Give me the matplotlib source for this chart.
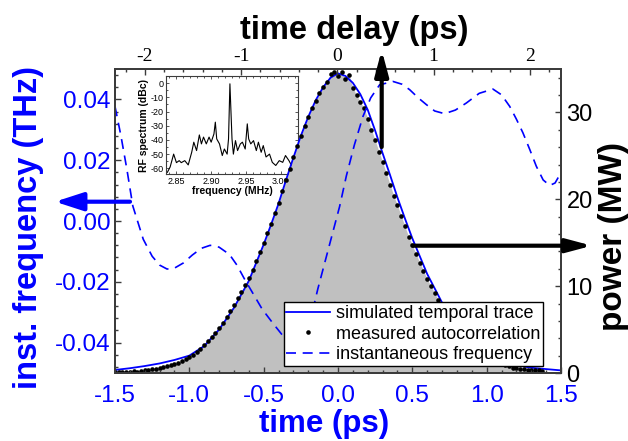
import matplotlib.pyplot as plt
from matplotlib.patches import FancyArrowPatch
from matplotlib.ticker import MultipleLocator, FormatStrFormatter

plt.rcParams['font.family'] = ['Liberation Sans', 'DejaVu Sans']
plt.rcParams['axes.unicode_minus'] = False

# simulated temporal trace (time in ps, power in MW)
sim_t = [-1.5, -1.4, -1.3, -1.2, -1.1, -1.0, -0.9, -0.8, -0.7, -0.6, -0.5, -0.45, -0.4, -0.35,
         -0.3, -0.25, -0.2, -0.15, -0.1, -0.05, 0.0, 0.05, 0.1, 0.15, 0.2, 0.25, 0.3, 0.35,
         0.4, 0.45, 0.5, 0.6, 0.7, 0.8, 0.9, 1.0, 1.1, 1.2, 1.3, 1.4, 1.5]
sim_p = [0.35, 0.55, 0.8, 1.1, 1.5, 2.0, 3.1, 5.0, 7.5, 10.6, 14.8, 17.1, 19.5, 22.2,
         24.8, 27.3, 29.5, 31.4, 32.9, 34.0, 34.5, 34.2, 33.4, 32.1, 30.3, 27.9, 25.3, 22.8,
         20.2, 17.8, 15.5, 11.4, 8.1, 5.6, 3.8, 2.5, 1.5, 0.9, 0.6, 0.45, 0.3]

# measured autocorrelation (dots)
meas_t = [-1.500, -1.475, -1.450, -1.425, -1.400, -1.375, -1.350, -1.325, -1.300, -1.275,
          -1.250, -1.225, -1.200, -1.175, -1.150, -1.125, -1.100, -1.075, -1.050, -1.025,
          -1.000, -0.975, -0.950, -0.925, -0.900, -0.875, -0.850, -0.825, -0.800, -0.775,
          -0.750, -0.725, -0.700, -0.675, -0.650, -0.625, -0.600, -0.575, -0.550, -0.525,
          -0.500, -0.475, -0.450, -0.425, -0.400, -0.375, -0.350, -0.325, -0.300, -0.275,
          -0.250, -0.225, -0.200, -0.175, -0.150, -0.125, -0.100, -0.075, -0.050, -0.025,
          0.000, 0.025, 0.050, 0.075, 0.100, 0.125, 0.150, 0.175, 0.200, 0.225,
          0.250, 0.275, 0.300, 0.325, 0.350, 0.375, 0.400, 0.425, 0.450, 0.475,
          0.500, 0.525, 0.550, 0.575, 0.600, 0.625, 0.650, 0.675, 0.700, 0.725,
          0.750, 0.775, 0.800, 0.825, 0.850, 0.875, 0.900, 0.925, 0.950, 0.975,
          1.000, 1.025, 1.050, 1.075, 1.100, 1.125, 1.150, 1.175, 1.200, 1.225,
          1.250, 1.275, 1.300, 1.325, 1.350, 1.375]
meas_p = [0.10, 0.12, 0.10, 0.15, 0.12, 0.18, 0.15, 0.25, 0.30, 0.35,
          0.42, 0.50, 0.58, 0.68, 0.78, 0.90, 1.05, 1.20, 1.38, 1.60,
          1.85, 2.10, 2.45, 2.80, 3.20, 3.65, 4.10, 4.60, 5.20, 5.80,
          6.40, 7.10, 7.80, 8.60, 9.30, 10.1, 10.9, 11.9, 12.9, 13.9,
          15.0, 16.1, 17.2, 18.4, 19.6, 20.9, 22.2, 23.5, 24.9, 26.1,
          27.3, 28.4, 29.5, 30.5, 31.3, 32.2, 32.9, 33.5, 34.4, 34.6,
          34.2, 34.6, 33.8, 34.3, 32.8, 32.0, 31.2, 30.5, 29.3, 28.0,
          26.8, 25.5, 24.3, 23.0, 21.7, 20.4, 19.3, 18.1, 16.9, 15.7,
          14.7, 13.7, 12.7, 11.8, 10.8, 10.0, 9.2, 8.4, 7.6, 7.0,
          6.3, 5.7, 5.2, 4.6, 4.2, 3.8, 3.3, 2.9, 2.6, 2.3,
          2.0, 1.75, 1.5, 1.25, 1.05, 0.9, 0.75, 0.6, 0.55, 0.5,
          0.45, 0.4, 0.35, 0.3, 0.3, 0.25]

# instantaneous frequency (THz)
freq_t = [-1.50, -1.46, -1.42, -1.38, -1.31, -1.25, -1.20, -1.15, -1.10, -1.04, -0.98, -0.92,
          -0.86, -0.80, -0.73, -0.68, -0.63, -0.57, -0.51, -0.44, -0.37, -0.32, -0.27, -0.23,
          -0.19, -0.136, -0.056, 0.011, 0.056, 0.11, 0.168, 0.22, 0.28, 0.37, 0.43, 0.482,
          0.54, 0.594, 0.65, 0.717, 0.79, 0.863, 0.95, 1.042, 1.10, 1.155, 1.20, 1.244,
          1.29, 1.334, 1.38, 1.424, 1.46, 1.50]
freq_f = [0.0377, 0.028, 0.017, 0.0049, -0.006, -0.0116, -0.0145, -0.0158, -0.0155, -0.0138, -0.0112, -0.0090,
          -0.0080, -0.0086, -0.0110, -0.0145, -0.0190, -0.0240, -0.0290, -0.0335, -0.0378, -0.0420, -0.0440, -0.0415,
          -0.0335, -0.0224, -0.0076, 0.0048, 0.0148, 0.0250, 0.0344, 0.0405, 0.0448, 0.0459, 0.0450, 0.0432,
          0.0405, 0.0383, 0.0362, 0.0353, 0.0365, 0.0388, 0.0420, 0.0434, 0.0415, 0.0377, 0.0335, 0.029,
          0.0235, 0.018, 0.0135, 0.0117, 0.0125, 0.0159]

# RF spectrum (inset)
rf_f = [2.837, 2.841, 2.846, 2.850, 2.854, 2.857, 2.862, 2.867, 2.872, 2.875, 2.879, 2.883,
        2.886, 2.889, 2.893, 2.897, 2.900, 2.904, 2.906, 2.908, 2.912, 2.916, 2.919, 2.923,
        2.925, 2.927, 2.930, 2.932, 2.935, 2.938, 2.942, 2.945, 2.949, 2.952, 2.954, 2.957,
        2.961, 2.965, 2.968, 2.972, 2.975, 2.979, 2.984, 2.988, 2.993, 2.998, 3.003, 3.007,
        3.012, 3.017, 3.022]
rf_db = [-62.8, -59, -50, -56, -54.6, -56, -54.6, -57.6, -48.7, -41.6, -47.5, -36.5,
         -42.8, -38, -42.8, -38, -41.6, -35.8, -27.5, -39.3, -42.8, -51, -46.4, -50,
         -39.3, -0.5, -39.3, -50, -40.5, -47.5, -42.8, -41.6, -46.4, -28.7, -39.3, -42.8,
         -40.5, -47.5, -41.6, -48.7, -44, -52, -50, -55.8, -58, -54.6, -55.8, -51,
         -54.6, -59.3, -55.8]

W, H = 628, 441
spine_col = '#3c3c3c'
blue = '#0000ff'

fig = plt.figure(figsize=(W / 100, H / 100), dpi=100)

# inset first, lowest zorder so the pulse is drawn over it
ins = fig.add_axes([166 / W, 1 - 174 / H, 132 / W, 98 / H])
ins.set_zorder(0)
ins.plot(rf_f, rf_db, color='k', lw=0.8)
ins.set_xlim(2.835, 3.025)
ins.set_ylim(-64, 5)
ins.set_xticks([2.85, 2.90, 2.95, 3.00])
ins.xaxis.set_major_formatter(FormatStrFormatter('%.2f'))
ins.set_yticks([0, -10, -20, -30, -40, -50, -60])
ins.xaxis.set_minor_locator(MultipleLocator(0.01))
ins.yaxis.set_minor_locator(MultipleLocator(5))
ins.tick_params(which='both', direction='in', top=True, right=True, labelsize=6.5, pad=2,
                color=spine_col, width=0.6)
ins.tick_params(which='major', length=2.5)
ins.tick_params(which='minor', length=1.5)
ins.set_xlabel('frequency (MHz)', fontsize=7.5, fontweight='bold', labelpad=0)
ins.set_ylabel('RF spectrum (dBc)', fontsize=7.5, fontweight='bold', labelpad=1)
for s in ins.spines.values():
    s.set_color(spine_col)
    s.set_linewidth(0.8)

ax = fig.add_axes([115 / W, 1 - 373 / H, 446 / W, 304 / H])
ax2 = ax.twinx()
ax3 = ax.twiny()
ax2.set_zorder(1)
ax.set_zorder(2)
ax3.set_zorder(3)
for a in (ax, ax2, ax3):
    a.patch.set_visible(False)
    for s in a.spines.values():
        s.set_color(spine_col)
        s.set_linewidth(1.2)

# power
ax2.fill_between(meas_t, meas_p, 0, color='#c0c0c0', lw=0)
h_sim, = ax2.plot(sim_t, sim_p, color=blue, lw=1.3)
h_meas, = ax2.plot(meas_t, meas_p, 'o', color='k', ms=3.3, mew=0)
ax2.set_ylim(0, 35)
ax2.yaxis.set_major_locator(MultipleLocator(10))
ax2.yaxis.set_minor_locator(MultipleLocator(2))
ax2.yaxis.set_major_formatter(FormatStrFormatter('%d'))

# frequency
h_freq, = ax.plot(freq_t, freq_f, color=blue, lw=1.2, ls=(0, (6, 4)))
ax.set_xlim(-1.5, 1.5)
ax.set_ylim(-0.05, 0.05)
ax.xaxis.set_major_locator(MultipleLocator(0.5))
ax.xaxis.set_minor_locator(MultipleLocator(0.1))
ax.xaxis.set_major_formatter(FormatStrFormatter('%.1f'))
ax.yaxis.set_major_locator(MultipleLocator(0.02))
ax.yaxis.set_minor_locator(MultipleLocator(0.004))
ax.yaxis.set_major_formatter(FormatStrFormatter('%.2f'))

# top delay axis
ax3.set_xlim(-2.311, 2.325)
ax3.xaxis.set_major_locator(MultipleLocator(1))
ax3.xaxis.set_minor_locator(MultipleLocator(0.2))
ax3.xaxis.set_major_formatter(FormatStrFormatter('%d'))

for a in (ax, ax2, ax3):
    a.tick_params(which='both', direction='in', color=spine_col, width=1.0)
    a.tick_params(which='major', length=4)
    a.tick_params(which='minor', length=2.4)
ax.tick_params(axis='x', labelsize=17.5, labelcolor=blue, pad=8.5)
ax.tick_params(axis='y', labelsize=17.5, labelcolor=blue, pad=3)
ax2.tick_params(axis='y', labelsize=17, labelcolor='k', pad=4)
ax3.tick_params(axis='x', labelsize=14, labelcolor='k', pad=3, labelfontfamily='Liberation Serif')

ax.set_xlabel('time (ps)', fontsize=22.5, fontweight='bold', color=blue)
ax.xaxis.set_label_coords(0.469, -0.12)
ax3.set_xlabel('time delay (ps)', fontsize=23.5, fontweight='bold', color='k')
ax3.xaxis.set_label_coords(0.536, 1.098)
ax.set_ylabel('inst. frequency (THz)', fontsize=23.5, fontweight='bold', color=blue)
ax.yaxis.set_label_coords(-0.159, 0.48)
ax2.set_ylabel('power (MW)', fontsize=24, fontweight='bold', color='k')
ax2.yaxis.set_label_coords(1.083, 0.45)

leg = ax3.legend([h_sim, h_meas, h_freq],
                 ['simulated temporal trace', 'measured autocorrelation', 'instantaneous frequency'],
                 loc='lower right', bbox_to_anchor=((543 - 115) / 446, (373 - 366) / 304),
                 borderaxespad=0, fontsize=13, fancybox=False, framealpha=1, edgecolor='k',
                 handlelength=2.4, handletextpad=0.35, borderpad=0.15, labelspacing=0.2)
leg.get_frame().set_linewidth(1.0)


def px(x, y):
    return (x / W, 1 - y / H)


arrows = [
    (px(381.7, 147), px(381.7, 50), 'k', '-|>,head_length=1.5,head_width=0.4'),
    (px(413, 245.7), px(592, 245.7), 'k', '-|>,head_length=1.5,head_width=0.4'),
    (px(130, 201.7), px(55, 201.7), blue, '-|>,head_length=1.7,head_width=0.55'),
]
for a_from, a_to, col, style in arrows:
    arr = FancyArrowPatch(a_from, a_to, transform=fig.transFigure, arrowstyle=style,
                          mutation_scale=10, lw=3.0, color=col, shrinkA=0, shrinkB=0, zorder=10)
    fig.add_artist(arr)

fig.savefig('out.png', dpi=100)
